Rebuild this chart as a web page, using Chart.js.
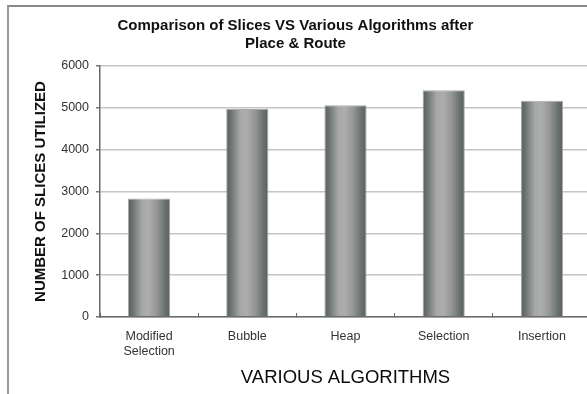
<!DOCTYPE html>
<html>
<head>
<meta charset="utf-8">
<script src="https://cdn.jsdelivr.net/npm/chart.js@4.4.1/dist/chart.umd.min.js"></script>
<style>
  html, body { margin: 0; padding: 0; background: #fff; overflow: hidden; }
  #frame {
    position: absolute; left: 7px; top: 5px; width: 620px; height: 420px;
    border-left: 2px solid #9a9a9a; border-top: 2px solid #8a8a8a;
  }
  #wrap { position: absolute; left: 0; top: 0; width: 600px; height: 394px; }
</style>
</head>
<body>
<div id="frame"></div>
<div id="wrap"><canvas id="c" width="600" height="394"></canvas></div>
<script>
// Slices used by each sorting algorithm after place & route
const categories = [["Modified", "Selection"], "Bubble", "Heap", "Selection", "Insertion"];
const slices = [2830, 4970, 5060, 5420, 5170];
const yTicks = [0, 1000, 2000, 3000, 4000, 5000, 6000];

const titleLines = ["Comparison of Slices VS Various Algorithms after", "Place & Route"];
const yTitle = "NUMBER OF SLICES UTILIZED";
const xTitle = "VARIOUS ALGORITHMS";

const FONT = "'Liberation Sans', Arial, sans-serif";
const BAR_PCT = 0.43;

// Cylinder-like shading across each bar
function barGradient(context) {
  const chart = context.chart;
  const xs = chart.scales.x;
  if (!xs || !chart.chartArea) return '#8a8d8c';
  const center = xs.getPixelForValue(context.dataIndex);
  const w = (xs.width / categories.length) * BAR_PCT;
  const g = chart.ctx.createLinearGradient(center - w / 2, 0, center + w / 2, 0);
  g.addColorStop(0.00, '#586060');
  g.addColorStop(0.10, '#6a7070');
  g.addColorStop(0.33, '#a6a7a7');
  g.addColorStop(0.48, '#adadad');
  g.addColorStop(0.68, '#959797');
  g.addColorStop(0.88, '#697070');
  g.addColorStop(1.00, '#586060');
  return g;
}

new Chart(document.getElementById('c'), {
  type: 'bar',
  data: {
    labels: categories,
    datasets: [{
      data: slices,
      backgroundColor: barGradient,
      borderColor: 'rgba(160,162,162,0.9)',
      borderWidth: 1,
      categoryPercentage: 1,
      barPercentage: BAR_PCT
    }]
  },
  options: {
    responsive: false,
    animation: false,
    layout: { padding: { left: 0, right: 9, top: 0, bottom: 0 } },
    plugins: {
      legend: { display: false },
      tooltip: { enabled: false },
      title: {
        display: true,
        text: titleLines,
        color: '#111',
        font: { family: FONT, size: 15, weight: 'bold', lineHeight: 1.2 },
        padding: { top: 17, bottom: 13 }
      }
    },
    scales: {
      x: {
        grid: {
          display: true,
          drawOnChartArea: false,
          drawTicks: true,
          tickLength: -4,
          color: '#666'
        },
        border: { display: true, color: '#6a6a6a', width: 1.5 },
        ticks: {
          color: '#333',
          font: { family: FONT, size: 12.5, lineHeight: 1.2 },
          padding: 16,
          maxRotation: 0,
          autoSkip: false
        },
        title: {
          display: true,
          text: xTitle,
          color: '#0a0a0a',
          font: { family: FONT, size: 18.5, lineHeight: 1.2 },
          padding: { top: 0, bottom: 5 }
        },
        afterFit: (s) => { s.height = 77; }
      },
      y: {
        min: 0,
        max: 6000,
        afterBuildTicks: (s) => { s.ticks = yTicks.map(v => ({ value: v })); },
        grid: {
          color: '#c4c4c4',
          lineWidth: 1.5,
          tickLength: 4,
          tickColor: '#777'
        },
        border: { display: true, color: '#6a6a6a', width: 1.5 },
        ticks: {
          color: '#333',
          font: { family: FONT, size: 12.5 },
          padding: 7,
          callback: (v) => String(v)
        },
        title: {
          display: true,
          text: yTitle,
          color: '#111',
          font: { family: FONT, size: 15, weight: 'bold', lineHeight: 1.2 },
          padding: { top: 32, bottom: 0 }
        },
        afterFit: (s) => { s.width = 100; }
      }
    }
  }
});
</script>
</body>
</html>
